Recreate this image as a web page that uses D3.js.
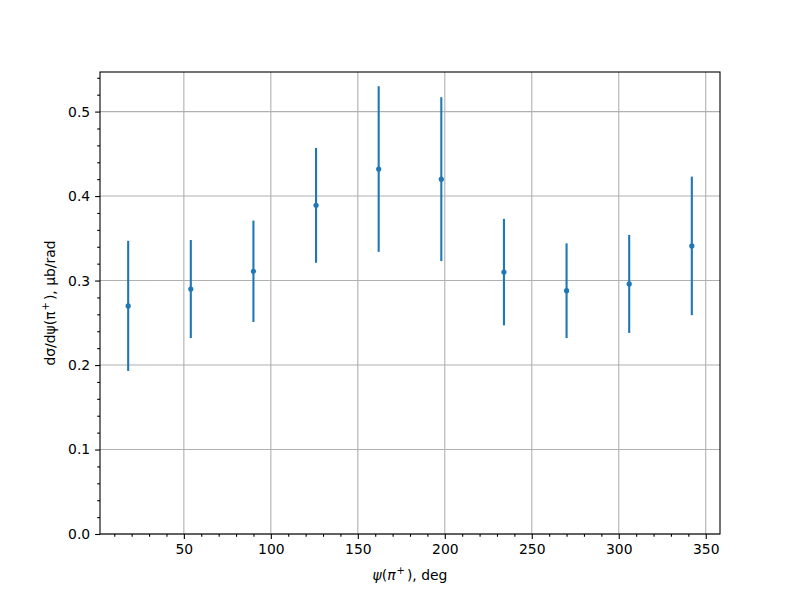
<!DOCTYPE html>
<html>
<head>
<meta charset="utf-8">
<script src="https://cdn.jsdelivr.net/npm/d3@7"></script>
<style>
  body { margin: 0; background: #fff; }
  text { font-family: "DejaVu Sans", sans-serif; }
</style>
</head>
<body>
<div id="chart"></div>
<script>
// angle bins, deg
const psiDeg = [18, 54, 90, 126, 162, 198, 234, 270, 306, 342];
// cross section, ub/rad
const dSigma = [0.270, 0.290, 0.311, 0.389, 0.432, 0.420, 0.310, 0.288, 0.296, 0.341];
const dSigmaErr = [0.077, 0.058, 0.060, 0.068, 0.098, 0.097, 0.063, 0.056, 0.058, 0.082];
const xTicks = [50, 100, 150, 200, 250, 300, 350];
const yTicks = [0.0, 0.1, 0.2, 0.3, 0.4, 0.5];

let width = 800, height = 600;
let plotLeft = 100, plotRight = 720, plotTop = 72, plotBottom = 534;
let color = '#1f77b4';

let points = psiDeg.map((x, i) => ({ x: x, y: dSigma[i], e: dSigmaErr[i] }));

// matplotlib style 5% margins, y floor at 0
let xMin = d3.min(psiDeg), xMax = d3.max(psiDeg);
let xPad = (xMax - xMin) * 0.05;
let lo = d3.min(points, d => d.y - d.e), hi = d3.max(points, d => d.y + d.e);
let yTop = hi + (hi - lo) * 0.05;

let xScale = d3.scaleLinear().domain([xMin - xPad, xMax + xPad]).range([plotLeft, plotRight]);
let yScale = d3.scaleLinear().domain([0, yTop]).range([plotBottom, plotTop]);

let svg = d3.select('#chart').append('svg')
    .attr('width', width)
    .attr('height', height);

// grid
svg.append('g').selectAll('line').data(xTicks).enter().append('line')
    .attr('x1', d => xScale(d)).attr('x2', d => xScale(d))
    .attr('y1', plotTop).attr('y2', plotBottom)
    .attr('stroke', '#b0b0b0').attr('stroke-width', 1.1);
svg.append('g').selectAll('line').data(yTicks).enter().append('line')
    .attr('x1', plotLeft).attr('x2', plotRight)
    .attr('y1', d => yScale(d)).attr('y2', d => yScale(d))
    .attr('stroke', '#b0b0b0').attr('stroke-width', 1.1);

// minor ticks
let xMinor = d3.range(10, 360, 10).filter(v => v % 50 !== 0 && v >= xScale.domain()[0] && v <= xScale.domain()[1]);
let yMinor = d3.range(0, 0.56, 0.02).map(v => +v.toFixed(2)).filter(v => Math.round(v * 100) % 10 !== 0 && v <= yTop);

svg.append('g').attr('transform', `translate(0, ${plotBottom})`)
    .call(d3.axisBottom(xScale).tickValues(xMinor).tickSize(2.8).tickFormat(''))
    .call(g => g.select('.domain').remove());
svg.append('g').attr('transform', `translate(${plotLeft}, 0)`)
    .call(d3.axisLeft(yScale).tickValues(yMinor).tickSize(2.8).tickFormat(''))
    .call(g => g.select('.domain').remove());

// major axes
let xAxis = svg.append('g').attr('transform', `translate(0, ${plotBottom})`)
    .call(d3.axisBottom(xScale).tickValues(xTicks).tickSize(4.9).tickPadding(4.9).tickFormat(d3.format('d')));
let yAxis = svg.append('g').attr('transform', `translate(${plotLeft}, 0)`)
    .call(d3.axisLeft(yScale).tickValues(yTicks).tickSize(4.9).tickPadding(4.9).tickFormat(d3.format('.1f')));

[xAxis, yAxis].forEach(a => {
    a.select('.domain').remove();
    a.selectAll('text').attr('font-size', 13.9).attr('fill', '#000').attr('font-family', 'DejaVu Sans');
});
svg.selectAll('.tick line').attr('stroke', '#000').attr('stroke-width', 1.1);

// frame
svg.append('rect')
    .attr('x', plotLeft).attr('y', plotTop)
    .attr('width', plotRight - plotLeft).attr('height', plotBottom - plotTop)
    .attr('fill', 'none').attr('stroke', '#000').attr('stroke-width', 1.1);

// error bars + points
let marks = svg.append('g');
marks.selectAll('line').data(points).enter().append('line')
    .attr('x1', d => xScale(d.x)).attr('x2', d => xScale(d.x))
    .attr('y1', d => yScale(d.y - d.e)).attr('y2', d => yScale(d.y + d.e))
    .attr('stroke', color).attr('stroke-width', 2.1);
marks.selectAll('circle').data(points).enter().append('circle')
    .attr('cx', d => xScale(d.x)).attr('cy', d => yScale(d.y))
    .attr('r', 2.6).attr('fill', color);

// axis labels
let xl = svg.append('text')
    .attr('x', (plotLeft + plotRight) / 2).attr('y', 580)
    .attr('text-anchor', 'middle').attr('font-size', 13.9);
xl.append('tspan').attr('font-style', 'italic').text('ψ');
xl.append('tspan').text('(');
xl.append('tspan').attr('font-style', 'italic').text('π');
xl.append('tspan').attr('font-size', 10).attr('dy', -6).attr('dx', 1).text('+');
xl.append('tspan').attr('dy', 6).attr('dx', 2).text('), deg');

let yl = svg.append('text')
    .attr('transform', `translate(55, ${(plotTop + plotBottom) / 2}) rotate(-90)`)
    .attr('text-anchor', 'middle').attr('font-size', 13.9);
yl.append('tspan').text('dσ/dψ(π');
yl.append('tspan').attr('font-size', 10).attr('dy', -6).attr('dx', 1).text('+');
yl.append('tspan').attr('dy', 6).attr('dx', 2).text('), μb/rad');
</script>
</body>
</html>
